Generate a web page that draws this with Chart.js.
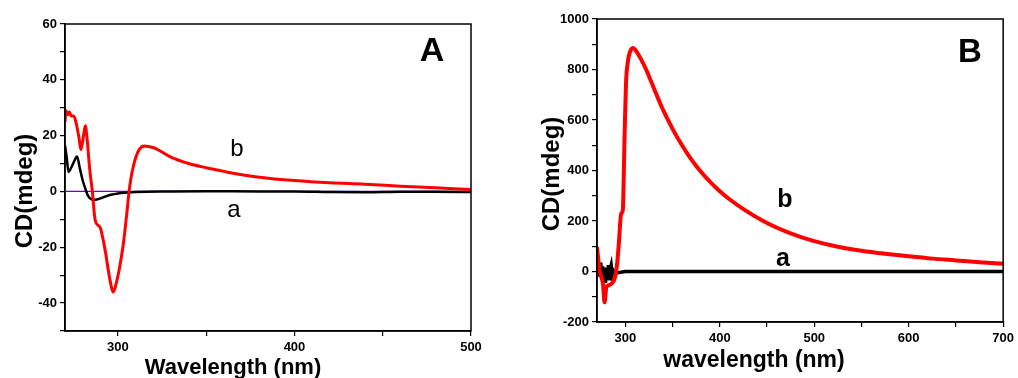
<!DOCTYPE html>
<html>
<head>
<meta charset="utf-8">
<script src="https://cdn.jsdelivr.net/npm/chart.js@4"></script>
<style>
  html, body { margin: 0; padding: 0; background: #fff; }
  #wrap { position: relative; width: 1018px; height: 378px; overflow: hidden; }
  .panel { position: absolute; top: 0; height: 378px; }
  #panelA { left: 0; width: 505px; }
  #panelB { left: 505px; width: 513px; }
</style>
</head>
<body>
<div id="wrap">
  <div class="panel" id="panelA"><canvas id="chartA"></canvas></div>
  <div class="panel" id="panelB"><canvas id="chartB"></canvas></div>
</div>
<script>
// ---- panel A data ----
const waveA_b = [270, 270.5, 271.5, 272.5, 273.5, 275, 276.5, 278, 279, 280.5, 281.5, 282.5, 284, 285.5, 287, 288.5, 290, 291.5, 293, 295, 297.4, 299, 301, 303, 305, 306.5, 308, 310, 312, 315, 318, 322, 330, 340, 350, 360, 366, 380, 400, 420, 440, 460, 480, 500];
const cdA_b = [25, 29, 27.5, 28.5, 27, 27, 24, 19, 15, 20, 23.5, 19, 8, 0, -10, -12, -13, -17, -22, -30, -36, -33, -27, -19, -8, 1, 7, 12, 15, 16.3, 16, 15.2, 12.3, 10, 8.5, 7.2, 6.4, 5.1, 3.9, 3.1, 2.6, 1.9, 1.3, 0.7];
const waveA_a = [270, 271, 272, 273.5, 275, 276.8, 278.5, 280, 281.5, 283, 285, 287.2, 290, 293, 296, 300, 305, 310, 330, 350, 380, 400, 420, 440, 460, 480, 500];
const cdA_a = [16.5, 12, 7, 8.5, 10.5, 12.5, 8, 4, 1, -1.5, -2.8, -3, -2.5, -1.8, -1.2, -0.7, -0.4, -0.2, 0, 0.1, 0, 0, -0.2, -0.3, -0.1, -0.1, -0.2];
const waveA_base = [270, 500];
const cdA_base = [0, 0];

// ---- panel B data ----
const waveB_b = [270, 272.8, 274.5, 276.3, 278, 279.9, 282, 284, 286.8, 288.5, 290.4, 291.8, 293.1, 295.6, 297.3, 299.1, 300.9, 302.3, 303.6, 305.5, 308, 312, 316, 322, 330, 339, 350, 360, 370, 380, 390, 400, 410, 425, 450, 475, 500, 525, 550, 575, 600, 625, 650, 675, 700];
const cdB_b = [97, 4, -20, -49, -122, -62, -55, -52, -42, -30, 4, 50, 110, 229, 242, 521, 760, 820, 852, 875, 885, 870, 845, 800, 728, 648, 565, 500, 443, 395, 354, 318, 287, 247, 192, 151, 120, 98, 82, 70, 60, 51, 44, 37, 31];
const waveB_a = [270, 271, 272, 273, 274, 275, 276, 277, 278, 279, 280, 281, 282, 283, 284, 285, 286, 287, 289, 291, 295, 300, 350, 400, 500, 600, 700];
const cdB_a = [40, -10, 30, -20, 35, -30, 20, -40, 10, -45, 15, -20, 25, -35, 10, 25, -10, 5, -8, -5, -3, 0, 0, 0, 0, 0, 0];

const FONT = '"Liberation Sans", Arial, sans-serif';

function pts(xs, ys) {
  return xs.map((x, i) => ({ x: x, y: ys[i] }));
}

// frame round the plot + free text (titles, labels)
function decorPlugin(texts) {
  return {
    id: 'decor',
    afterDraw(chart) {
      const ctx = chart.ctx;
      const a = chart.chartArea;
      ctx.save();
      ctx.strokeStyle = '#000';
      ctx.lineWidth = 1.5;
      ctx.strokeRect(a.left, a.top, a.right - a.left, a.bottom - a.top);
      ctx.fillStyle = '#000';
      texts.forEach(t => {
        ctx.save();
        ctx.font = t.font;
        ctx.textAlign = 'center';
        ctx.textBaseline = 'alphabetic';
        ctx.translate(t.x, t.y);
        if (t.rot) ctx.rotate(t.rot);
        ctx.fillText(t.text, 0, 0);
        ctx.restore();
      });
      ctx.restore();
    }
  };
}

function makeScales(o) {
  const tickFont = { family: FONT, size: 13, weight: 'bold' };
  return {
    x: {
      type: 'linear',
      min: o.xMin,
      max: o.xMax,
      afterBuildTicks: s => { s.ticks = o.xTicks.map(v => ({ value: v })); },
      afterFit: s => { s.height = o.xHeight; },
      grid: { drawOnChartArea: false, drawTicks: true, tickLength: 5, color: '#000', lineWidth: 1.2 },
      border: { color: '#000', width: 1.5 },
      ticks: {
        color: '#000', font: tickFont, padding: 4, maxRotation: 0, autoSkip: false,
        callback: v => (v % 100 === 0 ? String(v) : '')
      }
    },
    y: {
      min: o.yMin,
      max: o.yMax,
      afterBuildTicks: s => { s.ticks = o.yTicks.map(v => ({ value: v })); },
      afterFit: s => { s.width = o.yWidth; },
      grid: { drawOnChartArea: false, drawTicks: true, tickLength: 5, color: '#000', lineWidth: 1.2 },
      border: { color: '#000', width: 1.5 },
      ticks: {
        color: '#000', font: tickFont, padding: 3, autoSkip: false,
        callback: v => (v % o.yLabelStep === 0 ? String(v) : '')
      }
    }
  };
}

function range(a, b, step) {
  const out = [];
  for (let v = a; v <= b; v += step) out.push(v);
  return out;
}

const common = {
  responsive: true,
  maintainAspectRatio: false,
  animation: false,
  plugins: { legend: { display: false }, tooltip: { enabled: false } },
  elements: { point: { radius: 0 }, line: { tension: 0 } }
};

new Chart(document.getElementById('chartA'), {
  type: 'line',
  data: {
    datasets: [
      { label: 'b', data: pts(waveA_b, cdA_b), borderColor: '#ff0000', borderWidth: 3, cubicInterpolationMode: 'monotone' },
      { label: 'a', data: pts(waveA_a, cdA_a), borderColor: '#000000', borderWidth: 2.5, cubicInterpolationMode: 'monotone' },
      { label: 'base', data: pts(waveA_base, cdA_base), borderColor: '#6a00e0', borderWidth: 1.3 }
    ]
  },
  options: Object.assign({}, common, {
    layout: { padding: { top: 24, right: 34, left: 0, bottom: 0 } },
    scales: makeScales({
      xMin: 270, xMax: 500, xTicks: range(300, 500, 50), xHeight: 47,
      yMin: -50, yMax: 60, yTicks: range(-50, 60, 10), yLabelStep: 20, yWidth: 65
    })
  }),
  plugins: [decorPlugin([
    { text: 'Wavelength (nm)', x: 233, y: 374, font: 'bold 22px ' + FONT },
    { text: 'CD(mdeg)', x: 32, y: 191, rot: -Math.PI / 2, font: 'bold 24px ' + FONT },
    { text: 'A', x: 432, y: 61, font: 'bold 34px ' + FONT },
    { text: 'b', x: 237, y: 156, font: '24px ' + FONT },
    { text: 'a', x: 234, y: 217, font: '24px ' + FONT }
  ])]
});

new Chart(document.getElementById('chartB'), {
  type: 'line',
  data: {
    datasets: [
      { label: 'b', data: pts(waveB_b, cdB_b), borderColor: '#ff0000', borderWidth: 4, cubicInterpolationMode: 'monotone' },
      { label: 'a', data: pts(waveB_a, cdB_a), borderColor: '#000000', borderWidth: 3.5 }
    ]
  },
  options: Object.assign({}, common, {
    layout: { padding: { top: 19, right: 11, left: 0, bottom: 0 } },
    scales: makeScales({
      xMin: 270, xMax: 700, xTicks: range(300, 700, 50), xHeight: 56,
      yMin: -200, yMax: 1000, yTicks: range(-200, 1000, 100), yLabelStep: 200, yWidth: 92
    })
  }),
  plugins: [decorPlugin([
    { text: 'wavelength (nm)', x: 249, y: 367, font: 'bold 23px ' + FONT },
    { text: 'CD(mdeg)', x: 54, y: 174, rot: -Math.PI / 2, font: 'bold 24px ' + FONT },
    { text: 'B', x: 465, y: 62, font: 'bold 33px ' + FONT },
    { text: 'b', x: 280, y: 207, font: 'bold 25px ' + FONT },
    { text: 'a', x: 278, y: 266, font: 'bold 25px ' + FONT }
  ])]
});
</script>
</body>
</html>
